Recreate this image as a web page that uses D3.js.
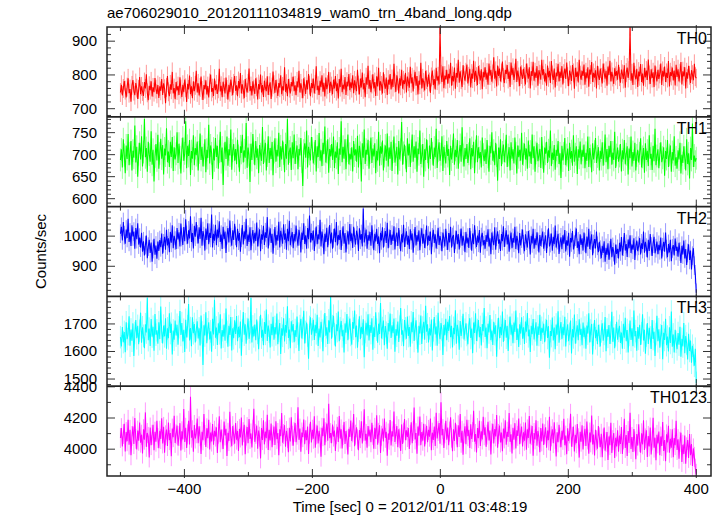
<!DOCTYPE html>
<html><head><meta charset="utf-8">
<script src="https://cdn.jsdelivr.net/npm/d3@7"></script>
<style>body{margin:0;background:#fff}text{font-family:"Liberation Sans",Arial,Helvetica,sans-serif;fill:#000}</style>
</head><body><svg id="c" width="723" height="516"></svg>
<script>
const title = "ae706029010_20120111034819_wam0_trn_4band_long.qdp";
const xLabel = "Time [sec] 0 = 2012/01/11 03:48:19";
const yLabel = "Counts/sec";
const tStart = -500, binSize = 1.5;
const xTicks = [-400, -200, 0, 200, 400];
const xMinorTicks = [-500, -300, -100, 100, 300];
const bands = ["TH0", "TH1", "TH2", "TH3", "TH0123"];
const colors = ["#ff0000", "#00ff00", "#0000ff", "#00ffff", "#ff00ff"];
// typical 1-sigma error bar per band (counts/sec)
const errors = [28, 26, 31, 41, 64];
const th0 = [748,771,739,760,782,755,733,764,790,746,758,721,769,785,752,740,776,761,729,757,
794,743,766,751,738,779,760,802,747,725,768,755,781,736,763,749,791,758,744,770,
732,766,753,788,741,775,759,716,763,797,750,737,772,756,809,745,761,728,779,754,
767,741,793,758,735,771,749,786,762,720,774,757,798,743,766,731,781,752,769,812,
748,775,739,763,795,754,726,770,758,784,742,767,733,776,801,750,761,738,789,755,
772,744,759,818,751,768,734,780,763,745,792,757,727,771,749,786,766,740,775,797,
753,769,737,782,760,806,745,772,756,731,788,763,748,775,819,752,767,739,781,758,
744,790,765,727,773,757,801,748,770,735,783,762,752,796,741,768,778,729,764,810,
771,747,785,759,738,776,762,799,743,766,754,823,750,774,737,788,761,745,779,766,
795,752,769,740,781,763,812,748,775,759,731,790,766,744,784,757,803,770,737,776,
761,789,745,772,826,755,768,741,783,764,799,750,777,736,792,758,771,809,747,780,
767,743,786,760,797,752,775,730,788,764,818,749,771,757,794,741,780,766,803,755,
778,761,799,746,784,768,752,815,770,742,789,763,807,757,776,734,793,771,827,759,
785,749,773,802,760,779,738,796,766,821,754,781,769,745,808,774,759,792,741,786,
771,803,757,788,764,833,776,750,799,782,745,790,768,815,759,784,773,806,748,795,
780,762,824,775,793,751,787,809,768,797,742,783,771,836,760,790,778,754,812,786,
765,801,779,747,794,813,770,788,757,821,783,796,772,944,802,779,826,761,798,787,
815,774,803,790,836,768,797,781,822,759,806,792,845,777,811,786,764,829,799,783,
808,831,775,796,818,763,804,789,842,779,812,795,770,826,801,784,817,758,809,793,
823,786,807,771,834,798,815,780,803,852,789,812,766,828,797,819,781,806,840,792,
776,815,803,829,788,810,764,837,799,821,785,806,848,779,813,794,767,825,801,788,
818,795,772,834,806,789,823,760,811,797,839,783,808,791,826,768,814,802,786,845,
799,817,781,805,768,828,793,812,776,841,800,785,819,763,807,796,833,781,810,791,
826,772,804,819,788,837,795,767,813,800,782,829,806,759,821,794,810,778,845,799,
786,812,797,831,771,808,790,823,765,816,801,838,779,806,792,814,760,827,798,785,
819,793,775,834,806,789,812,768,825,800,842,781,809,794,773,820,797,811,786,830,
795,777,816,803,788,829,762,807,822,791,813,944,783,805,770,836,799,787,818,764,
810,796,832,779,804,768,821,793,813,785,846,800,773,817,791,808,764,828,797,781,
815,788,803,834,770,812,795,825,779,806,791,841,766,808,797,822,784,813,769,830,
794,817,781,805,838,772,811,796,823,760,808,789,827,799,776,814,801,784,833,795,
790];
const th1 = [688,712,671,735,699,658,721,690,747,676,703,731,664,709,693,766,682,718,650,701,
727,689,742,673,706,781,694,715,661,729,700,684,753,677,711,639,696,724,687,745,
668,703,736,691,722,655,714,698,760,683,707,672,729,695,740,663,717,689,702,751,
681,725,694,657,712,739,686,703,776,669,720,697,733,654,708,691,744,676,715,699,
730,664,705,748,688,718,673,699,735,660,711,692,768,680,721,703,645,714,687,738,
695,720,668,707,752,683,716,631,701,729,690,741,675,712,698,757,666,709,724,686,
713,678,734,697,661,719,704,745,682,710,693,772,670,716,699,638,725,688,747,704,
676,731,693,714,658,722,701,686,763,679,708,727,664,698,742,681,715,690,729,653,
706,737,684,711,696,750,672,719,689,732,703,660,724,691,781,677,707,716,665,728,
692,746,679,705,721,667,713,698,738,684,629,709,726,693,755,671,718,702,687,740,
714,680,703,733,662,719,695,749,686,710,674,727,701,764,682,706,735,659,713,696,
724,688,741,670,707,693,728,656,714,700,776,683,718,691,735,667,709,746,678,702,
689,717,662,731,698,712,684,743,671,720,704,639,726,693,757,679,711,700,734,668,
705,739,681,714,696,726,658,709,687,752,675,719,702,732,664,697,721,686,748,673,
716,691,729,663,707,741,682,700,718,655,731,689,711,774,677,704,723,694,660,737,
698,725,672,708,746,684,719,693,730,661,714,701,755,679,697,724,650,712,688,735,
707,668,721,690,738,703,675,716,694,759,670,709,728,686,701,742,663,718,696,680,
731,697,713,654,720,689,707,748,677,711,694,733,668,706,722,684,762,699,673,715,
690,724,681,702,737,667,715,696,729,658,708,744,683,717,692,706,671,739,700,685,
712,679,733,695,661,720,703,751,686,709,676,727,698,641,716,690,735,674,705,723,
683,708,745,672,699,717,664,728,691,712,680,739,703,657,721,694,711,686,750,677,
701,725,689,714,668,732,696,707,679,746,692,719,661,704,727,685,698,713,670,740,
694,659,716,702,729,681,710,693,755,674,705,688,722,666,711,697,731,679,703,647,
720,687,703,738,676,699,714,663,727,691,708,675,744,684,701,719,656,712,693,730,
678,711,695,723,669,704,686,741,672,715,697,660,726,689,707,738,681,696,717,664,
709,690,728,675,702,746,683,713,667,720,694,731,677,705,688,752,670,699,716,684,
697,724,662,710,689,733,678,701,719,655,714,692,741,673,706,686,727,664,698,711,
682,703,737,671,695,715,659,726,688,709,674,744,691,702,665,720,685,759,676,697,
712,669,701,728,683,693,717,652,708,690,733,672,699,721,661,706,687,742,675,694,
668,710,689,727,657,700,681,719,693,664,735,679,703,646,715,688,771,672,698,684,
692];
const th2 = [1008,1031,986,1047,1003,975,1022,994,1058,981,1012,967,1036,999,1015,958,1027,990,1043,972,
995,962,1011,948,983,936,970,1002,927,965,988,944,979,915,957,991,938,969,925,982,
951,987,963,1009,942,976,998,955,1021,969,993,947,1014,978,1036,960,1001,985,957,1027,
989,1013,966,1042,997,971,1030,983,1056,1004,975,1019,992,1066,981,1010,959,1034,998,1047,
1006,976,1029,991,1061,968,1017,1000,952,1025,987,1043,973,1011,994,1072,962,1008,985,1038,
970,1022,995,1049,981,1005,957,1031,990,1015,944,1003,1027,979,1052,996,968,1019,987,1041,
1001,963,1024,985,1010,948,995,1037,972,1016,990,1058,967,1005,981,1029,953,999,1020,976,
1011,984,1045,966,997,1023,950,1006,988,1034,971,1013,994,1063,959,1000,1026,977,1008,942,
992,1030,969,1004,985,1048,962,1018,997,975,1039,988,1009,955,1024,983,1051,970,996,1014,
960,1007,982,1035,993,968,1021,1000,946,1012,987,1043,974,1003,958,1027,990,1068,979,1010,
986,1019,951,997,1032,973,1006,989,1054,966,1015,992,940,1008,981,1028,963,1001,1037,976,
1012,958,993,1025,980,1047,969,1004,987,1020,954,998,1033,975,1010,946,989,1016,972,1040,
983,1009,961,1031,995,972,1018,1003,951,1026,988,1007,966,1092,979,997,1022,958,1004,985,
1014,968,1036,990,953,1008,982,1024,974,999,943,1011,986,1029,962,996,1017,977,1044,960,
993,1020,971,1005,984,1033,956,998,1012,967,1027,989,950,1006,979,1038,964,995,1016,972,
1001,957,1023,986,1009,945,993,1030,969,1004,982,1019,953,997,1026,975,1008,961,990,1035,
968,1002,984,1015,940,996,1021,977,1006,959,988,1028,971,1000,983,950,1012,992,966,1024,
985,954,1010,979,1031,962,997,1004,944,988,1018,973,1007,956,993,1025,968,1001,982,947,
1014,976,995,961,1027,986,952,1009,973,1036,990,964,1002,978,1020,945,997,1011,969,987,
958,1004,981,1023,966,993,940,1012,985,970,1029,955,998,1016,975,989,951,1007,983,1033,
964,996,1019,972,1005,948,987,1012,960,994,978,1031,957,1001,984,943,1010,969,992,1022,
973,950,1006,985,962,1017,989,939,1001,976,1024,958,993,970,1013,981,946,1004,967,995,
1015,958,982,1003,944,991,1026,966,977,1009,952,998,973,1035,962,987,1008,941,979,996,
957,1003,975,1020,949,986,968,1011,932,994,979,1017,956,972,998,1025,961,983,940,1006,
971,993,952,1012,978,943,999,965,1024,957,985,1006,937,974,990,959,1015,968,947,981,
955,927,968,944,983,915,961,938,976,922,953,991,930,964,947,905,972,941,958,926,
978,949,997,936,965,1010,952,974,931,989,960,1003,944,972,955,993,921,967,985,950,
968,994,939,976,957,1015,945,981,962,929,988,951,1007,966,934,975,998,943,960,982,
940,971,953,995,926,963,981,948,1012,957,930,974,946,988,917,959,970,936,992,951,
965,932,978,949,911,968,939,985,926,957,904,944,973,921,952,889,935,960,902,873,
812];
const th3 = [1652,1618,1689,1634,1671,1597,1706,1645,1663,1728,1621,1680,1639,1702,1584,1667,1714,1648,1693,1626,
1675,1741,1632,1688,1657,1612,1699,1669,1795,1641,1683,1620,1718,1654,1690,1603,1736,1661,1677,1628,
1706,1645,1763,1672,1629,1694,1655,1721,1610,1684,1648,1739,1667,1701,1589,1676,1643,1712,1658,1697,
1625,1688,1747,1660,1703,1636,1679,1598,1715,1651,1692,1772,1640,1685,1619,1724,1666,1700,1633,1678,
1710,1647,1684,1622,1731,1669,1551,1695,1658,1742,1630,1681,1706,1644,1673,1599,1719,1662,1788,1650,
1687,1624,1702,1666,1735,1611,1678,1654,1698,1639,1756,1671,1617,1693,1660,1725,1604,1684,1648,1713,
1664,1729,1637,1690,1652,1709,1585,1676,1743,1661,1699,1628,1682,1720,1646,1670,1794,1633,1691,1655,
1698,1641,1716,1668,1608,1687,1733,1650,1679,1623,1707,1664,1752,1638,1694,1672,1615,1701,1659,1726,
1643,1689,1662,1738,1626,1675,1703,1591,1684,1657,1721,1636,1696,1668,1764,1649,1680,1612,1710,1673,
1700,1634,1678,1653,1727,1665,1602,1692,1719,1647,1685,1748,1629,1671,1705,1658,1574,1689,1724,1661,
1681,1715,1642,1697,1666,1733,1620,1683,1651,1708,1676,1601,1694,1740,1657,1688,1627,1713,1669,1799,
1646,1692,1730,1663,1618,1699,1674,1745,1637,1684,1711,1655,1679,1596,1702,1668,1736,1641,1686,1720,
1660,1625,1707,1683,1749,1652,1694,1614,1676,1728,1645,1690,1663,1717,1579,1671,1704,1658,1735,1640,
1696,1667,1721,1606,1688,1653,1742,1679,1632,1701,1664,1776,1647,1685,1712,1623,1692,1668,1610,1703,
1673,1738,1649,1695,1666,1720,1599,1681,1657,1709,1635,1690,1758,1661,1677,1619,1714,1684,1646,1727,
1656,1689,1617,1706,1670,1743,1638,1682,1713,1650,1596,1693,1665,1731,1627,1687,1708,1643,1766,1672,
1699,1633,1684,1658,1716,1604,1677,1725,1662,1691,1621,1741,1669,1645,1703,1680,1587,1696,1659,1719,
1641,1708,1675,1729,1652,1693,1615,1686,1663,1750,1628,1697,1673,1606,1711,1656,1688,1737,1644,1679,
1702,1660,1626,1695,1721,1649,1683,1594,1705,1667,1739,1638,1678,1714,1652,1689,1622,1700,1674,1758,
1653,1687,1612,1701,1669,1732,1641,1676,1624,1708,1663,1695,1581,1680,1722,1648,1690,1659,1745,1635,
1679,1714,1650,1693,1602,1685,1727,1661,1697,1630,1705,1671,1749,1642,1683,1616,1699,1665,1724,1646,
1688,1627,1709,1672,1740,1655,1680,1598,1693,1663,1718,1644,1677,1706,1621,1691,1660,1733,1638,1686,
1668,1701,1634,1678,1715,1649,1692,1577,1674,1656,1723,1640,1687,1608,1698,1661,1746,1632,1683,1707,
1645,1690,1659,1726,1618,1676,1699,1637,1664,1712,1593,1681,1651,1734,1628,1670,1695,1641,1717,1660,
1682,1623,1705,1652,1687,1610,1694,1665,1739,1633,1676,1700,1589,1661,1714,1648,1679,1626,1697,1657,
1618,1673,1702,1639,1664,1725,1601,1681,1653,1696,1627,1668,1744,1635,1687,1612,1659,1708,1643,1675,
1693,1631,1669,1610,1701,1650,1722,1637,1678,1596,1660,1712,1642,1684,1619,1749,1655,1674,1603,1689,
1646,1697,1624,1666,1735,1640,1679,1592,1658,1703,1627,1686,1651,1609,1714,1645,1672,1584,1663,1730,
1637,1681,1614,1659,1696,1572,1668,1642,1719,1623,1654,1600,1688,1631,1745,1617,1662,1596,1679,1635,
1608,1667,1625,1690,1581,1646,1618,1703,1594,1656,1629,1571,1664,1602,1640,1559,1621,1587,1548,1610,
1486];
const th0123 = [4072,4135,4018,4097,4163,3986,4110,4051,4188,4029,4124,3961,4085,4146,4033,4200,4067,3998,4119,4054,
4171,4042,4093,3972,4128,4061,4236,4015,4104,4079,3947,4139,4026,4092,4157,3993,4112,4048,4183,4071,
4006,4118,4065,4199,4037,4143,3978,4089,4126,4020,4171,4058,4103,3955,4132,4077,4214,4040,4096,4151,
4023,4084,4167,3991,4115,4062,4258,4046,4137,4008,4095,4182,4030,4337,4074,4121,3984,4155,4068,4102,
4196,4039,4147,4083,3969,4112,4057,4225,4091,4014,4134,4070,4189,3998,4107,4049,4162,4028,4118,4081,
4140,3975,4099,4211,4044,4126,4063,4002,4177,4088,4131,3956,4105,4052,4240,4076,4019,4148,4093,4035,
4168,4061,4117,3989,4130,4075,4203,4024,4109,4156,3967,4087,4142,4038,4194,4066,4101,4011,4125,4259,
4047,4098,4152,4003,4119,4080,3941,4136,4059,4185,4031,4113,4070,4221,3995,4124,4056,4165,4012,4090,
4145,4027,4179,4064,4104,3962,4128,4083,4232,4041,4097,4154,4016,4117,4072,3980,4138,4050,4205,4086,
4023,4111,4168,4045,4093,4269,4060,4132,3984,4107,4077,4190,4032,4121,4058,4146,3970,4099,4176,4043,
4125,4067,4211,4009,4094,4151,4036,4118,4075,3952,4137,4083,4198,4026,4109,4164,4054,4292,4071,4103,
4039,4158,4081,4119,3988,4096,4143,4047,4212,4068,4127,4005,4090,4175,4034,4116,4061,3966,4131,4078,
4184,4052,4107,4226,4019,4093,4140,4063,3994,4122,4071,4179,4037,4114,4256,4055,4098,4010,4149,4082,
4126,4044,4170,4091,4003,4137,4065,4218,4028,4105,4154,3976,4086,4132,4049,4196,4073,4112,3958,4101,
4060,4187,4024,4115,4081,4241,4046,4097,4148,4012,4128,4070,3989,4159,4034,4106,4193,4057,4121,4078,
4135,4001,4092,4172,4039,4116,4268,4063,4103,3971,4145,4087,4209,4025,4110,4054,4163,4018,4096,4150,
4044,4124,4080,4197,3993,4106,4059,4145,4021,4234,4069,4117,4167,4035,4301,4089,4130,4008,4102,4182,
4061,4139,4026,4113,4205,4074,3987,4128,4052,4170,4095,4012,4153,4078,4226,4041,4118,3964,4101,4147,
4032,4189,4083,4124,4007,4159,4066,4110,4247,4048,4097,3979,4136,4071,4183,4020,4115,4062,4208,4089,
4140,4015,4093,4175,4056,4119,3966,4102,4163,4037,4129,4082,4219,4010,4098,4151,4043,4107,3987,4133,
4069,4186,4028,4112,4079,4232,4047,4095,3973,4138,4061,4167,4004,4121,4085,4196,4032,4100,4145,4018,
4109,4054,4171,3996,4127,4072,4213,4035,4090,4148,3958,4104,4063,4186,4022,4117,4077,3981,4135,4050,
4164,4027,4096,4141,4009,4120,4057,4208,3990,4083,4128,4039,4172,4066,3954,4109,4044,4157,4075,4013,
4118,4060,4195,4025,4087,3967,4134,4052,4101,4227,4016,4079,4146,3985,4093,4038,4162,4070,3946,4112,
4048,4153,3998,4085,4131,4021,4178,4062,3971,4107,4044,4216,4030,4094,3960,4125,4057,4003,4149,4076,
4012,4099,3949,4068,4139,3990,4047,4110,3931,4082,4026,4169,3975,4058,4104,3943,4073,4017,4121,3984,
4087,4034,4142,3969,4063,4195,4008,4091,3957,4116,4040,4233,4001,4078,3982,4129,4050,3936,4097,4023,
4160,4045,3978,4102,4031,4186,3995,4069,4121,3950,4085,4017,4139,3966,4056,4201,4010,4074,3929,4092,
4037,4113,3961,4081,4020,4174,3988,4058,3922,4095,4043,4150,3977,4066,4009,4127,3948,4071,4026,4183,
3995,4064,3939,4048,4106,3918,4029,3970,4087,3907,4012,4059,3944,4098,3961,4033,3893,4005,3951,3876,
3842];
const seriesValues = [th0, th1, th2, th3, th0123];
const yDomains = [[676, 942], [582, 786], [800, 1098], [1474, 1800], [3828, 4404]];
const yTicks = [[700, 800, 900], [600, 650, 700, 750], [900, 1000], [1500, 1600, 1700], [4000, 4200, 4400]];
const yMinorStep = [20, 10, 20, 20, 100];

const svg = d3.select("#c");
const L = 107, R = 711, T = 27, B = 476;
const nP = bands.length;
const pH = (B - T) / nP;
const x = d3.scaleLinear().domain([-521, 423]).range([L, R]);
const fmt = d => d < 0 ? "\u2212" + Math.abs(d) : String(d);

svg.append("text").attr("x", L).attr("y", 18).attr("font-size", 15).text(title);
svg.append("text").attr("transform", `translate(46,${(T + B) / 2}) rotate(-90)`)
  .attr("text-anchor", "middle").attr("font-size", 15).text(yLabel);
svg.append("text").attr("x", 410).attr("y", 512).attr("text-anchor", "middle").attr("font-size", 15).text(xLabel);

const defs = svg.append("defs");

bands.forEach((band, k) => {
  const top = T + k * pH, bot = top + pH;
  const y = d3.scaleLinear().domain(yDomains[k]).range([bot, top]);
  const vals = seriesValues[k];
  const data = vals.map((v, i) => ({t: tStart + i * binSize, v}));
  defs.append("clipPath").attr("id", "cp" + k).append("rect")
    .attr("x", L).attr("y", top).attr("width", R - L).attr("height", pH);
  const g = svg.append("g").attr("clip-path", `url(#cp${k})`);
  g.append("g").attr("stroke", colors[k]).attr("stroke-opacity", 0.45).attr("stroke-width", 0.9)
    .selectAll("line").data(data).join("line")
    .attr("x1", d => x(d.t)).attr("x2", d => x(d.t))
    .attr("y1", d => y(d.v - errors[k])).attr("y2", d => y(d.v + errors[k]));
  const line = d3.line().x(d => x(d.t)).y(d => y(d.v));
  g.append("path").datum(data).attr("d", line).attr("fill", "none")
    .attr("stroke", colors[k]).attr("stroke-width", 1.05);

  const ax = svg.append("g").attr("stroke", "#333").attr("stroke-width", 1);
  const [d0, d1] = yDomains[k];
  const minors = d3.range(Math.ceil(d0 / yMinorStep[k]) * yMinorStep[k], d1 + 0.001, yMinorStep[k])
    .filter(v => !yTicks[k].includes(v) && y(v) > top + 1 && y(v) < bot - 1);
  minors.forEach(v => {
    ax.append("line").attr("x1", L).attr("x2", L + 4).attr("y1", y(v)).attr("y2", y(v));
    ax.append("line").attr("x1", R - 4).attr("x2", R).attr("y1", y(v)).attr("y2", y(v));
  });
  yTicks[k].forEach(v => {
    ax.append("line").attr("x1", L).attr("x2", L + 8).attr("y1", y(v)).attr("y2", y(v));
    ax.append("line").attr("x1", R - 8).attr("x2", R).attr("y1", y(v)).attr("y2", y(v));
    svg.append("text").attr("x", 97).attr("y", y(v) + 5).attr("text-anchor", "end")
      .attr("font-size", 15).text(fmt(v));
  });
  xTicks.forEach(t => {
    ax.append("line").attr("x1", x(t)).attr("x2", x(t)).attr("y1", top - 2).attr("y2", top + 7);
    ax.append("line").attr("x1", x(t)).attr("x2", x(t)).attr("y1", bot + 2).attr("y2", bot - 7);
  });
  xMinorTicks.forEach(t => {
    ax.append("line").attr("x1", x(t)).attr("x2", x(t)).attr("y1", top).attr("y2", top + 4);
    ax.append("line").attr("x1", x(t)).attr("x2", x(t)).attr("y1", bot).attr("y2", bot - 4);
  });
  svg.append("text").attr("x", R - 4).attr("y", top + 17).attr("text-anchor", "end")
    .attr("font-size", 16).text(band);
});

svg.append("rect").attr("x", L).attr("y", T).attr("width", R - L).attr("height", B - T)
  .attr("fill", "none").attr("stroke", "#222").attr("stroke-width", 1.5);
for (let k = 1; k < nP; k++) {
  svg.append("line").attr("x1", L).attr("x2", R).attr("y1", T + k * pH).attr("y2", T + k * pH)
    .attr("stroke", "#222").attr("stroke-width", 1.8);
}
xTicks.forEach(t => {
  svg.append("text").attr("x", x(t)).attr("y", 494).attr("text-anchor", "middle")
    .attr("font-size", 15).text(fmt(t));
});
</script></body></html>
